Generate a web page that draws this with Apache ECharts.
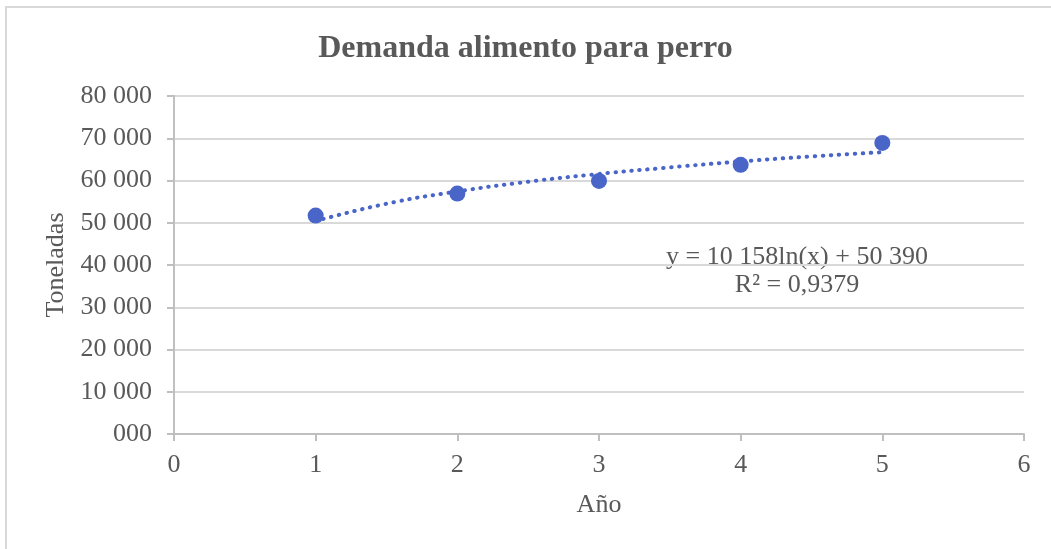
<!DOCTYPE html>
<html>
<head>
<meta charset="utf-8">
<script src="https://cdn.jsdelivr.net/npm/echarts@6/dist/echarts.min.js"></script>
<style>html,body{margin:0;padding:0;background:#fff}#c{width:1051px;height:549px}</style>
</head>
<body>
<div id="c"></div>
<script>
// Data
var years = [1, 2, 3, 4, 5];
var demanda = [51700, 56900, 59900, 63700, 68900];
// Logarithmic trendline as drawn (read at intermediate x positions)
var trendX = [1, 1.5, 2, 2.5, 3, 3.5, 4, 4.5, 5];
var trendY = [50400, 54500, 57400, 59700, 61550, 63100, 64500, 65700, 66700];
var yTickLabels = ['000', '10 000', '20 000', '30 000', '40 000', '50 000', '60 000', '70 000', '80 000'];
var xTickLabels = ['0', '1', '2', '3', '4', '5', '6'];
var titleText = 'Demanda alimento para perro';
var equationText = 'y = 10 158ln(x) + 50 390';
var r2Text = 'R² = 0,9379';

var FONT = '"Liberation Serif", "Times New Roman", serif';
var TXT = '#595959';
var BLUE = '#4a65c8';

var chart = echarts.init(document.getElementById('c'), null, {renderer: 'canvas'});
chart.setOption({
  animation: false,
  backgroundColor: '#fff',
  title: {
    text: titleText,
    left: 'center',
    top: 28,
    textStyle: {fontFamily: FONT, fontSize: 32, fontWeight: 'bold', color: TXT}
  },
  grid: {left: 174, right: 27, top: 96, bottom: 115},
  xAxis: {
    type: 'value', min: 0, max: 6, interval: 1,
    name: 'Año', nameLocation: 'middle', nameGap: 58,
    nameTextStyle: {fontFamily: FONT, fontSize: 26, color: TXT},
    axisLine: {show: true, lineStyle: {color: '#bfbfbf', width: 2}},
    axisTick: {show: true, length: 7, lineStyle: {color: '#bfbfbf', width: 2}},
    axisLabel: {fontFamily: FONT, fontSize: 26, color: TXT, margin: 18,
      formatter: function (v) { return xTickLabels[Math.round(v)]; }},
    splitLine: {show: false}
  },
  yAxis: {
    type: 'value', min: 0, max: 80000, interval: 10000,
    name: 'Toneladas', nameLocation: 'middle', nameGap: 104,
    nameTextStyle: {fontFamily: FONT, fontSize: 26, color: TXT},
    axisLine: {show: true, lineStyle: {color: '#bfbfbf', width: 2}},
    axisTick: {show: true, length: 7, lineStyle: {color: '#bfbfbf', width: 2}},
    axisLabel: {fontFamily: FONT, fontSize: 26, color: TXT, margin: 22,
      formatter: function (v) { return yTickLabels[Math.round(v / 10000)]; }},
    splitLine: {show: true, lineStyle: {color: '#d9d9d9', width: 2}}
  },
  graphic: [
    {type: 'rect', shape: {x: 6, y: 7, width: 1100, height: 600}, silent: true,
      style: {fill: 'none', stroke: '#d9d9d9', lineWidth: 2}, z: -1},
    {type: 'text', x: 797, y: 257, silent: true,
      style: {text: equationText, font: '26px ' + FONT, fill: TXT,
        align: 'center', verticalAlign: 'middle'}},
    {type: 'text', x: 797, y: 285, silent: true,
      style: {text: r2Text, font: '26px ' + FONT, fill: TXT,
        align: 'center', verticalAlign: 'middle'}}
  ],
  series: [
    {
      type: 'line', data: trendX.map(function (x, i) { return [x, trendY[i]]; }),
      smooth: true, showSymbol: false, symbol: 'none', z: 2,
      lineStyle: {color: BLUE, width: 4, type: [0.5, 7.5], cap: 'round'}
    },
    {
      type: 'scatter', data: years.map(function (x, i) { return [x, demanda[i]]; }),
      symbolSize: 16, z: 3,
      itemStyle: {color: BLUE, opacity: 1}
    }
  ]
});
</script>
</body>
</html>
